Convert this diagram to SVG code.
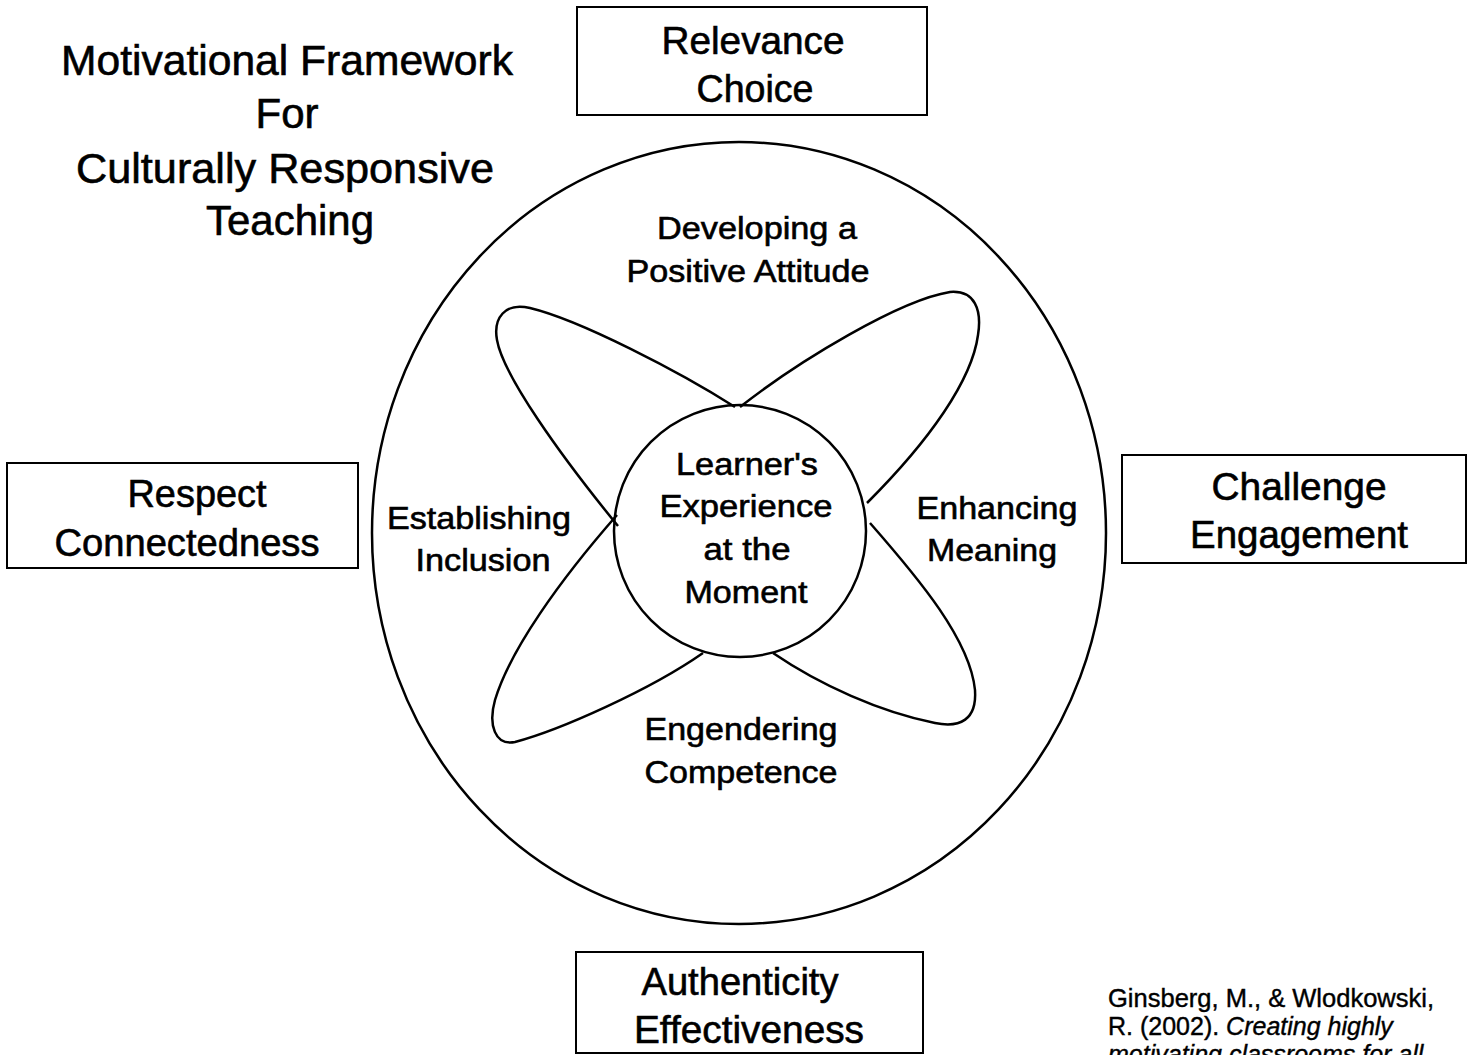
<svg xmlns="http://www.w3.org/2000/svg" width="1468" height="1055" viewBox="0 0 1468 1055">
<style>
text { font-family: "Liberation Sans", Arial, sans-serif; fill: #000; stroke: #000; stroke-width: 0.6; text-anchor: middle; }
.title { font-size: 42px; }
.box { fill: #fff; stroke: #000; stroke-width: 2; }
.boxt { font-size: 38px; }
.lbl { font-size: 31px; }
.line { fill: none; stroke: #000; stroke-width: 2.5; }
.cite { font-size: 25px; text-anchor: start; stroke-width: 0.4; }
.it { font-style: italic; }
</style>
<rect width="1468" height="1055" fill="#fff"/>

<g id="title">
<text class="title" x="287" y="75" textLength="452" lengthAdjust="spacingAndGlyphs">Motivational Framework</text>
<text class="title" x="287" y="128">For</text>
<text class="title" x="285" y="183" textLength="418" lengthAdjust="spacingAndGlyphs">Culturally Responsive</text>
<text class="title" x="290" y="235" textLength="168" lengthAdjust="spacingAndGlyphs">Teaching</text>
</g>

<g id="outer-circle">
<ellipse class="line" cx="739" cy="533" rx="367" ry="391"/>
</g>

<g id="connectors">
<path class="line" d="M735,407 C 680,372 580,320 530,308 C 505,302 493,318 497,340 C 503,375 560,455 618,526"/>
<path class="line" d="M740,407 C 800,360 900,300 950,292 C 975,290 982,310 978,335 C 972,380 930,440 867,503"/>
<path class="line" d="M870,523 C 920,580 970,640 975,690 C 977,720 960,728 935,723 C 880,712 820,685 773,653"/>
<path class="line" d="M703,653 C 650,690 560,730 515,742 C 495,746 488,725 495,700 C 510,650 560,580 617,515"/>
</g>

<g id="inner-circle">
<circle class="line" cx="740" cy="531" r="126" fill="#fff"/>
<text class="lbl" x="747" y="475" textLength="142" lengthAdjust="spacingAndGlyphs">Learner's</text>
<text class="lbl" x="746" y="517" textLength="173" lengthAdjust="spacingAndGlyphs">Experience</text>
<text class="lbl" x="747" y="560" textLength="87" lengthAdjust="spacingAndGlyphs">at the</text>
<text class="lbl" x="746" y="603" textLength="123" lengthAdjust="spacingAndGlyphs">Moment</text>
</g>

<g id="developing">
<text class="lbl" x="757" y="239" textLength="200" lengthAdjust="spacingAndGlyphs">Developing a</text>
<text class="lbl" x="748" y="282" textLength="243" lengthAdjust="spacingAndGlyphs">Positive Attitude</text>
</g>

<g id="establishing">
<text class="lbl" x="479" y="529" textLength="184" lengthAdjust="spacingAndGlyphs">Establishing</text>
<text class="lbl" x="483" y="571" textLength="135" lengthAdjust="spacingAndGlyphs">Inclusion</text>
</g>

<g id="enhancing">
<text class="lbl" x="997" y="519" textLength="161" lengthAdjust="spacingAndGlyphs">Enhancing</text>
<text class="lbl" x="992" y="561" textLength="130" lengthAdjust="spacingAndGlyphs">Meaning</text>
</g>

<g id="engendering">
<text class="lbl" x="741" y="740" textLength="193" lengthAdjust="spacingAndGlyphs">Engendering</text>
<text class="lbl" x="741" y="783" textLength="193" lengthAdjust="spacingAndGlyphs">Competence</text>
</g>

<g id="relevance">
<rect class="box" x="577" y="7" width="350" height="108"/>
<text class="boxt" x="753" y="54" textLength="183" lengthAdjust="spacingAndGlyphs">Relevance</text>
<text class="boxt" x="755" y="102" textLength="117" lengthAdjust="spacingAndGlyphs">Choice</text>
</g>

<g id="respect">
<rect class="box" x="7" y="463" width="351" height="105"/>
<text class="boxt" x="197" y="507" textLength="139" lengthAdjust="spacingAndGlyphs">Respect</text>
<text class="boxt" x="187" y="556" textLength="265" lengthAdjust="spacingAndGlyphs">Connectedness</text>
</g>

<g id="challenge">
<rect class="box" x="1122" y="455" width="344" height="108"/>
<text class="boxt" x="1299" y="500" textLength="175" lengthAdjust="spacingAndGlyphs">Challenge</text>
<text class="boxt" x="1299" y="548" textLength="218" lengthAdjust="spacingAndGlyphs">Engagement</text>
</g>

<g id="authenticity">
<rect class="box" x="576" y="952" width="347" height="101"/>
<text class="boxt" x="740" y="995" textLength="197" lengthAdjust="spacingAndGlyphs">Authenticity</text>
<text class="boxt" x="749" y="1043" textLength="230" lengthAdjust="spacingAndGlyphs">Effectiveness</text>
</g>

<g id="citation">
<text class="cite" x="1108" y="1007" textLength="326" lengthAdjust="spacingAndGlyphs">Ginsberg, M., &amp; Wlodkowski,</text>
<text class="cite" x="1108" y="1035">R. (2002). <tspan class="it">Creating highly</tspan></text>
<text class="cite it" x="1108" y="1063">motivating classrooms for all</text>
</g>
</svg>
